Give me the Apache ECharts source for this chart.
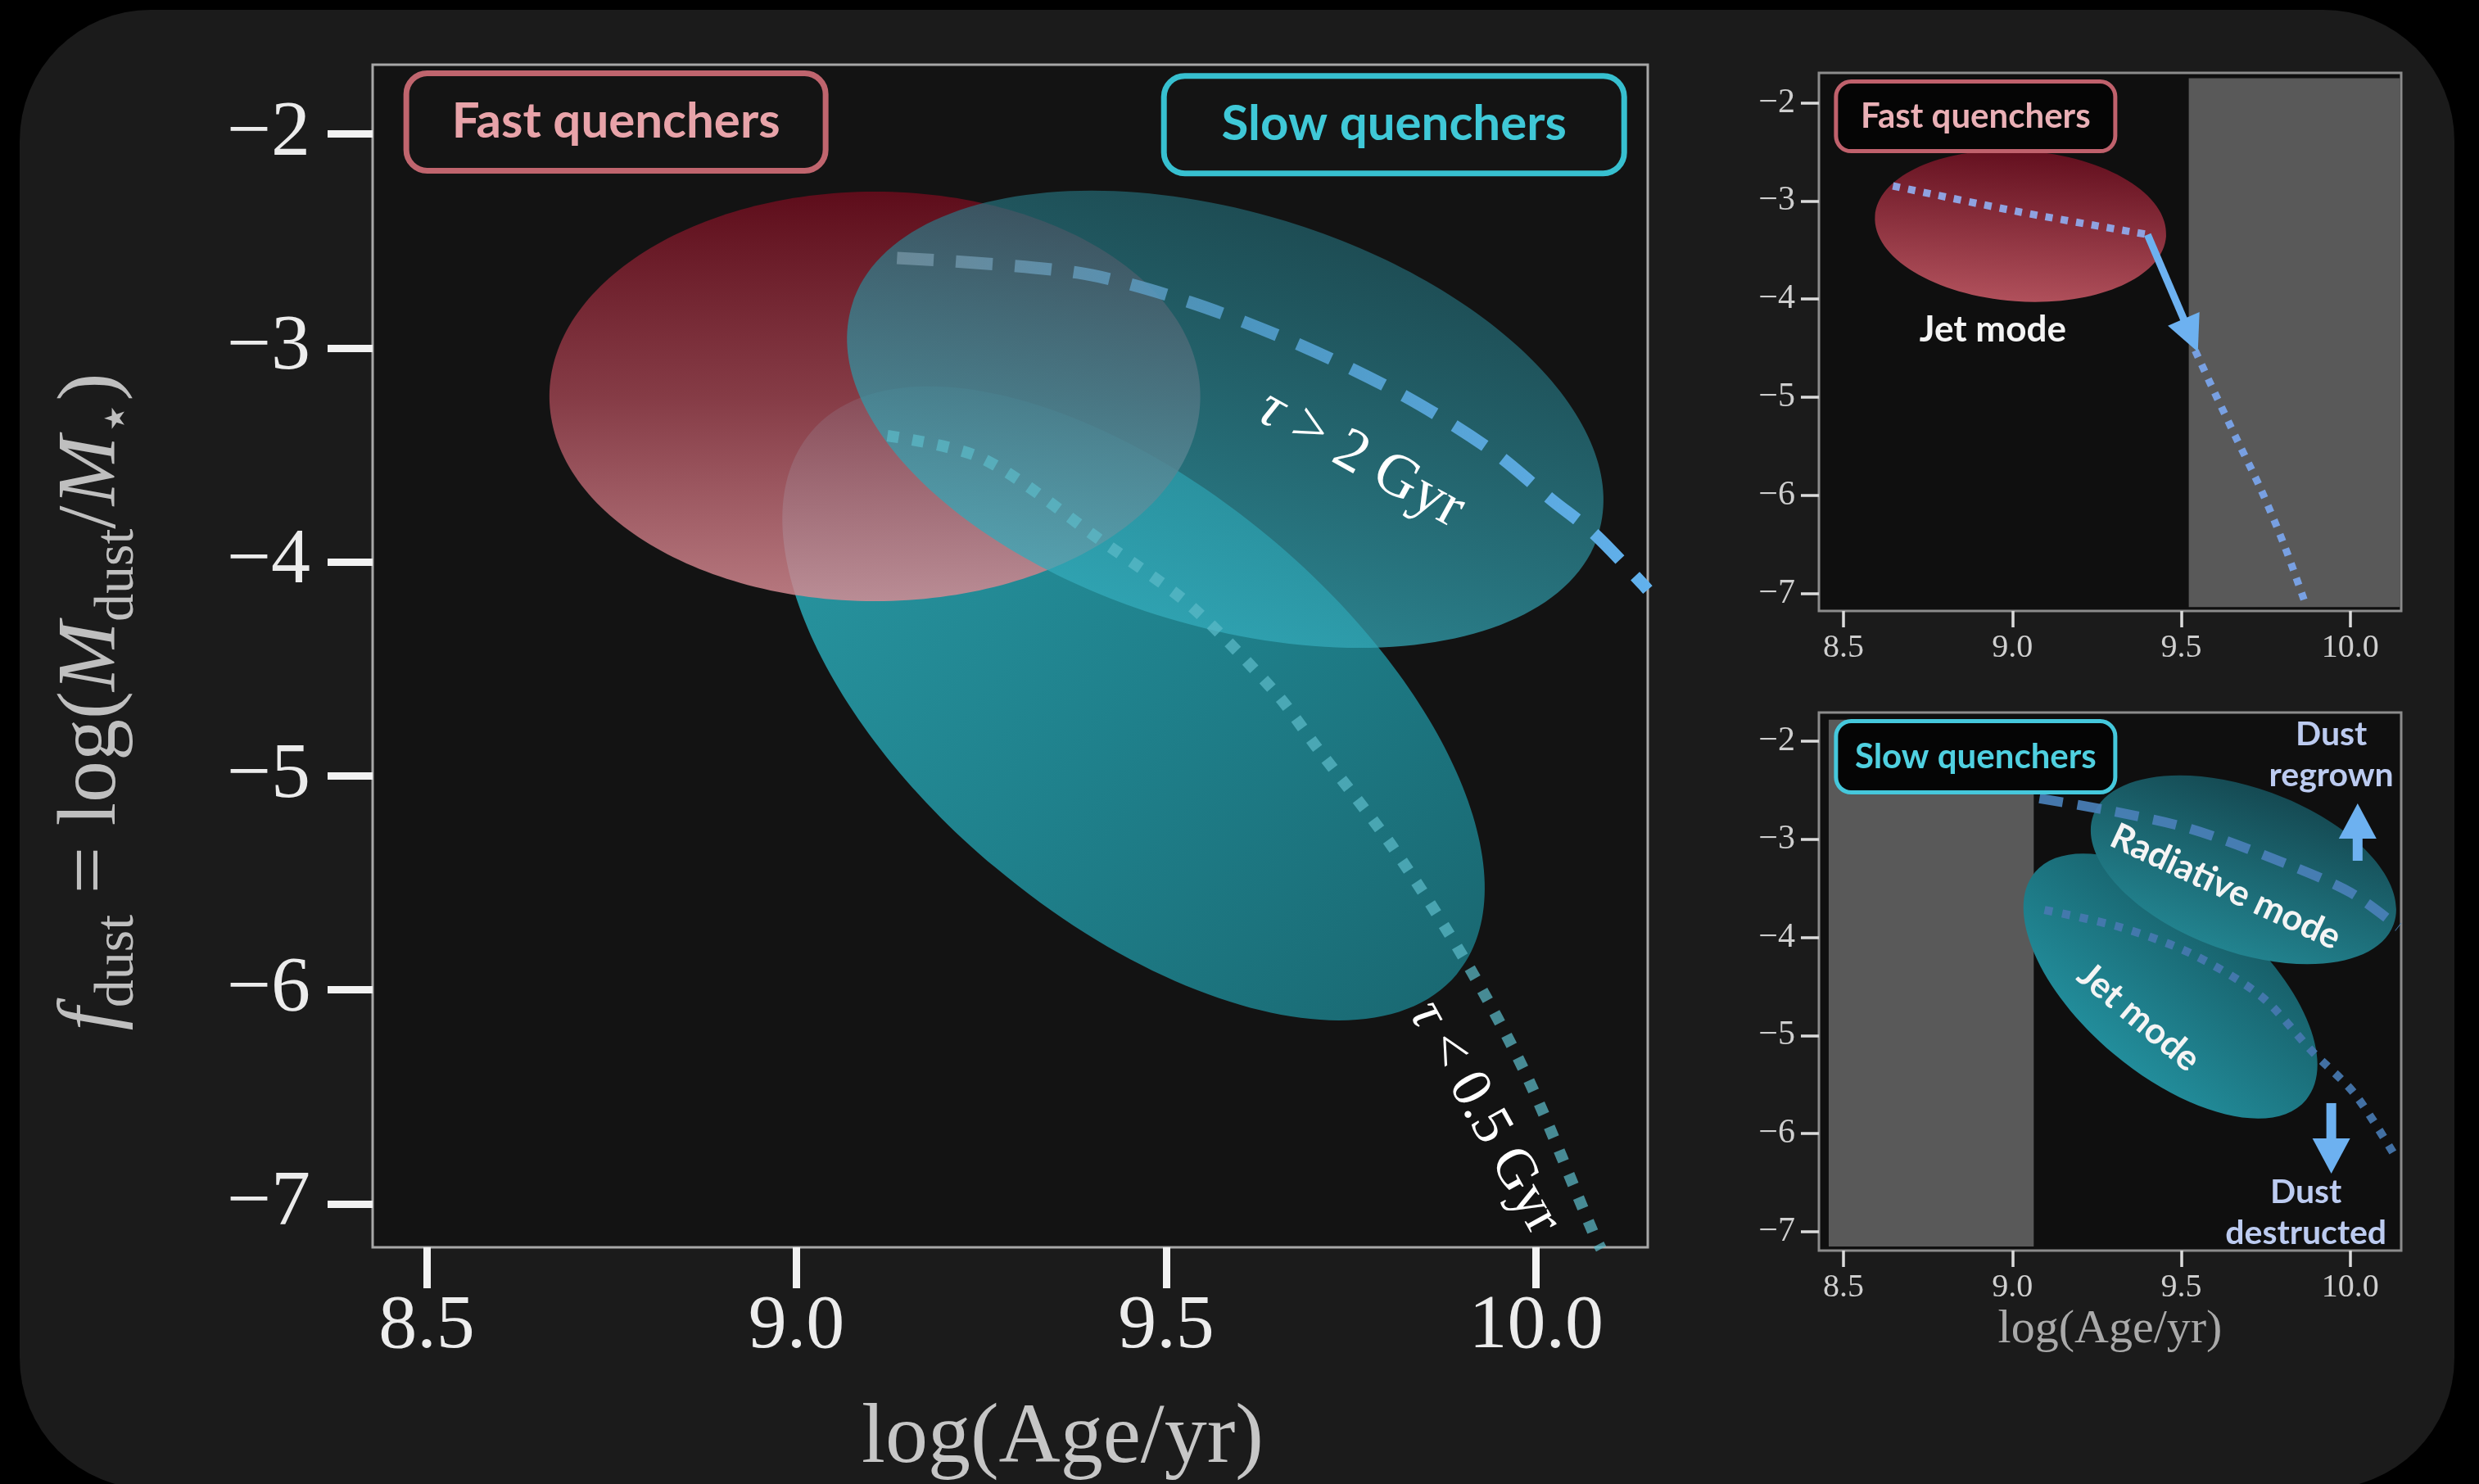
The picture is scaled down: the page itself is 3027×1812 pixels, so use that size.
<!DOCTYPE html>
<html>
<head>
<meta charset="utf-8">
<title>Dust fraction versus stellar age</title>
<script src="https://cdn.jsdelivr.net/npm/echarts@6/dist/echarts.min.js"></script>
<style>
html, body { margin: 0; padding: 0; background: #000; }
#chart { width: 3027px; height: 1812px; }
</style>
</head>
<body>
<div id="chart"></div>
<script>
// ---------- shared axes ----------
const xRange = [8.427, 10.151];
const yRangeMain = [-7.203, -1.676];
const yRangeTop = [-7.179, -1.695];
const yRangeBottom = [-7.192, -1.708];
const xTicks = [8.5, 9.0, 9.5, 10.0];
const xTickLabels = ['8.5', '9.0', '9.5', '10.0'];
const yTicks = [-2, -3, -4, -5, -6, -7];
const yTickLabels = ['\u22122', '\u22123', '\u22124', '\u22125', '\u22126', '\u22127'];

// ---------- main panel ----------
// regions: [centre log age, centre f_dust, half-width (dex in age), half-height (dex in f_dust), tilt in degrees]
const fastRegion = [9.106, -3.226, 0.440, 0.957, 0];
const slowRegionLongTau = [9.580, -3.333, 0.528, 0.968, -17];
const slowRegionShortTau = [9.456, -4.661, 0.570, 1.003, -40];
// evolutionary tracks [log age, f_dust]
const trackLongTau = [[9.136, -2.579], [9.380, -2.648], [9.532, -2.786], [9.683, -2.989], [9.823, -3.226],
  [9.940, -3.479], [10.022, -3.712], [10.079, -3.869], [10.143, -4.099], [10.151, -4.13]];
const trackShortTau = [[9.123, -3.410], [9.252, -3.517], [9.415, -3.908], [9.532, -4.202], [9.648, -4.612],
  [9.703, -4.864], [9.805, -5.327], [9.905, -5.867], [9.988, -6.407], [10.079, -7.149], [10.088, -7.21]];
const mainTrackLabels = [[9.763, -3.52, '{i|\u03c4} > 2 Gyr'], [9.930, -6.598, '{i|\u03c4} < 0.5 Gyr']];
const mainTags = [[8.756, -1.944, 'Fast quenchers'], [9.808, -1.956, 'Slow quenchers']];

// ---------- fast-quencher inset ----------
const fastJetRegion = [9.024, -3.256, 0.432, 0.768, -4];
const fastTrackEarly = [[8.646, -2.847], [9.024, -3.114], [9.396, -3.340]];
const fastTrackLate = [[9.541, -4.525], [9.597, -4.942], [9.665, -5.434], [9.735, -5.935], [9.806, -6.520], [9.869, -7.121]];
const fastJump = [[9.400, -3.344, 9.549, -4.54]];
const fastOldBand = [[9.522, 10.148, -7.14, -1.75]];
const fastNotes = [[8.942, -4.316, 'Jet mode']];
const fastTag = [[8.891, -2.138, 'Fast quenchers']];

// ---------- slow-quencher inset ----------
const slowRadiativeRegion = [9.684, -3.311, 0.473, 0.835, -20];
const slowJetRegion = [9.468, -4.496, 0.524, 0.902, -40];
const slowTrackRadiative = [[9.080, -2.584], [9.277, -2.701], [9.527, -2.893], [9.806, -3.244], [10.002, -3.544], [10.143, -3.895]];
const slowTrackJet = [[9.095, -3.720], [9.318, -3.895], [9.527, -4.162], [9.735, -4.596], [9.888, -5.164], [10.014, -5.598], [10.141, -6.274]];
const slowYoungBand = [[8.456, 9.063, -7.15, -1.78]];
const dustArrows = [[10.022, -3.219, 10.022, -2.634], [9.944, -5.689, 9.944, -6.407]];
const slowModeNotes = [[9.631, -3.486, 'Radiative mode'], [9.374, -4.813, 'Jet mode']];
const dustNotes = [[9.944, -2.142, 'Dust\nregrown'], [9.869, -6.808, 'Dust\ndestructed']];
const slowTag = [[8.891, -2.159, 'Slow quenchers']];

// ---------- helpers ----------
const SERIF = '"Liberation Serif", "DejaVu Serif", serif';
const SANS = 'Lato, "Open Sans", "Noto Sans", sans-serif';
const LG = echarts.graphic.LinearGradient;

function tickLabel(ticks, labels) {
  return function (v) {
    const i = ticks.findIndex(function (t) { return Math.abs(t - v) < 1e-6; });
    return i >= 0 ? labels[i] : '';
  };
}

function regionSeries(gi, region, fill, z) {
  return {
    type: 'custom', xAxisIndex: gi, yAxisIndex: gi, z: z, silent: true, clip: true,
    data: [region],
    renderItem: function (params, api) {
      const c = api.coord([api.value(0), api.value(1)]);
      const rx = api.size([api.value(2), 0])[0];
      const ry = api.size([0, api.value(3)])[1];
      return {
        type: 'ellipse', x: c[0], y: c[1], rotation: api.value(4) * Math.PI / 180,
        shape: { cx: 0, cy: 0, rx: rx, ry: ry },
        style: { fill: fill }
      };
    }
  };
}

function bandSeries(gi, band, color, z) {
  return {
    type: 'custom', xAxisIndex: gi, yAxisIndex: gi, z: z, silent: true, clip: true,
    data: band,
    renderItem: function (params, api) {
      const a = api.coord([api.value(0), api.value(3)]);
      const b = api.coord([api.value(1), api.value(2)]);
      return { type: 'rect', shape: { x: a[0], y: a[1], width: b[0] - a[0], height: b[1] - a[1] }, style: { fill: color } };
    }
  };
}

function trackSeries(gi, data, color, width, pattern, z, smooth) {
  return {
    type: 'line', xAxisIndex: gi, yAxisIndex: gi, z: z, silent: true,
    data: data, symbol: 'none', smooth: smooth, clip: true,
    lineStyle: { color: color, width: width, type: pattern, cap: 'butt', join: 'round' }
  };
}

function arrowSeries(gi, arrows, color, shaft, headW, headL, z) {
  return {
    type: 'custom', xAxisIndex: gi, yAxisIndex: gi, z: z, silent: true, clip: false,
    data: arrows,
    renderItem: function (params, api) {
      const a = api.coord([api.value(0), api.value(1)]);
      const b = api.coord([api.value(2), api.value(3)]);
      const dx = b[0] - a[0], dy = b[1] - a[1];
      const len = Math.sqrt(dx * dx + dy * dy);
      const ux = dx / len, uy = dy / len, px = -uy, py = ux;
      const bx = b[0] - ux * headL, by = b[1] - uy * headL;
      return {
        type: 'group', children: [
          { type: 'line', shape: { x1: a[0], y1: a[1], x2: bx + ux * 3, y2: by + uy * 3 }, style: { stroke: color, lineWidth: shaft } },
          { type: 'polygon', shape: { points: [[b[0], b[1]], [bx + px * headW / 2, by + py * headW / 2], [bx - px * headW / 2, by - py * headW / 2]] }, style: { fill: color } }
        ]
      };
    }
  };
}

function textSeries(gi, notes, z, styler) {
  return {
    type: 'custom', xAxisIndex: gi, yAxisIndex: gi, z: z, silent: true, clip: false,
    data: notes.map(function (n) { return [n[0], n[1]]; }),
    renderItem: function (params, api) {
      const n = notes[params.dataIndex];
      const p = api.coord([api.value(0), api.value(1)]);
      const s = styler(params.dataIndex);
      return {
        type: 'text', x: p[0], y: p[1], rotation: (s.rotate || 0) * Math.PI / 180,
        style: Object.assign({ text: n[2], align: 'center', verticalAlign: 'middle' }, s.style)
      };
    }
  };
}

function tagStyle(fontSize, color, border, borderWidth, radius, w, h, bg) {
  return {
    fontFamily: SANS, fontWeight: 'bold', fontSize: fontSize, fill: color,
    backgroundColor: bg, borderColor: border, borderWidth: borderWidth, borderRadius: radius,
    width: w, lineHeight: h, padding: 0
  };
}

function xAxisFor(gi, big, named) {
  return {
    type: 'value', gridIndex: gi, min: xRange[0], max: xRange[1],
    axisLine: { show: false }, splitLine: { show: false },
    axisTick: { show: true, customValues: xTicks, length: big ? 50 : 20, lineStyle: { color: big ? '#f2f2f2' : '#dcdcdc', width: big ? 9 : 3.5 } },
    axisLabel: {
      show: true, customValues: xTicks, formatter: tickLabel(xTicks, xTickLabels),
      margin: big ? 50 : 25, fontSize: big ? 94 : 40, fontFamily: SERIF, color: big ? '#ececec' : '#cfcfcf'
    },
    name: named ? 'log(Age/yr)' : '', nameLocation: 'middle', nameGap: big ? 183 : 68, nameMoveOverlap: false,
    nameTextStyle: {
      fontFamily: SERIF, fontSize: big ? 104 : 58, color: big ? '#c6c6c6' : '#a9a9a9',
      padding: big ? [0, 0, 0, 128] : [0, 0, 0, 0]
    }
  };
}

function yAxisFor(gi, range, big) {
  return {
    type: 'value', gridIndex: gi, min: range[0], max: range[1],
    axisLine: { show: false }, splitLine: { show: false },
    axisTick: { show: true, customValues: yTicks, length: big ? 55 : 22, lineStyle: { color: big ? '#f2f2f2' : '#dcdcdc', width: big ? 9 : 3.5 } },
    axisLabel: {
      show: true, customValues: yTicks, formatter: tickLabel(yTicks, yTickLabels),
      margin: big ? 76 : 29, fontSize: big ? 96 : 42, fontFamily: SERIF, color: big ? '#ececec' : '#cfcfcf'
    }
  };
}

const mainY = yAxisFor(0, yRangeMain, true);
Object.assign(mainY, {
  name: '{it|f}{sub|dust}{rm| = log(}{it|M}{sub|dust}{rm|/}{it|M}{sub|\u22c6}{rm|)}',
  nameLocation: 'middle', nameRotate: 90, nameGap: 277, nameMoveOverlap: false,
  nameTextStyle: {
    color: '#bfbfbf', fontFamily: SERIF, fontSize: 102, lineHeight: 130, padding: [0, 112, 0, 0],
    rich: {
      it: { fontFamily: SERIF, fontStyle: 'italic', fontSize: 102, lineHeight: 130, color: '#bfbfbf' },
      rm: { fontFamily: SERIF, fontSize: 102, lineHeight: 130, color: '#bfbfbf' },
      sub: { fontFamily: SERIF, fontSize: 68, lineHeight: 56, verticalAlign: 'bottom', color: '#bfbfbf' }
    }
  }
});

const option = {
  backgroundColor: '#000',
  animation: false,
  graphic: {
    elements: [{ type: 'rect', z: -10, silent: true, shape: { x: 24, y: 12, width: 2973, height: 1806, r: 160 }, style: { fill: '#1b1b1b' } }]
  },
  grid: [
    { left: 455, top: 79, width: 1557, height: 1444, show: true, backgroundColor: '#131313', borderColor: '#a8a8a8', borderWidth: 3, outerBoundsMode: 'none', containLabel: false },
    { left: 2221, top: 89, width: 711, height: 657, show: true, backgroundColor: '#0f0f0f', borderColor: '#8c8c8c', borderWidth: 3, outerBoundsMode: 'none', containLabel: false },
    { left: 2221, top: 870, width: 711, height: 657, show: true, backgroundColor: '#0f0f0f', borderColor: '#8c8c8c', borderWidth: 3, outerBoundsMode: 'none', containLabel: false }
  ],
  xAxis: [xAxisFor(0, true, true), xAxisFor(1, false, false), xAxisFor(2, false, true)],
  yAxis: [mainY, yAxisFor(1, yRangeTop, false), yAxisFor(2, yRangeBottom, false)],
  series: [
    // ----- main panel -----
    regionSeries(0, slowRegionShortTau, new LG(0, 0.5, 1, 0.5, [
      { offset: 0, color: 'rgba(42,160,172,0.93)' },
      { offset: 0.5, color: 'rgba(32,137,149,0.93)' },
      { offset: 1, color: 'rgba(26,110,120,0.95)' }
    ]), 1),
    regionSeries(0, fastRegion, new LG(0, 0, 0, 1, [
      { offset: 0, color: 'rgba(100,12,27,0.92)' },
      { offset: 0.5, color: 'rgba(152,66,78,0.86)' },
      { offset: 1, color: 'rgba(214,140,148,0.84)' }
    ]), 2),
    regionSeries(0, slowRegionLongTau, new LG(0, 0, 0, 1, [
      { offset: 0, color: 'rgba(36,112,124,0.62)' },
      { offset: 1, color: 'rgba(52,172,188,0.74)' }
    ]), 3),
    trackSeries(0, trackLongTau, new LG(0, 0, 1, 0, [
      { offset: 0, color: 'rgba(120,150,165,0.75)' },
      { offset: 0.45, color: 'rgba(80,155,200,0.9)' },
      { offset: 1, color: 'rgba(98,178,238,1)' }
    ]), 15, [45, 27], 4, 0.3),
    trackSeries(0, trackShortTau, 'rgba(92,186,200,0.72)', 14, [14, 17], 4, 0.3),
    textSeries(0, mainTrackLabels, 6, function (i) {
      return {
        rotate: i === 0 ? -29 : -61,
        style: {
          fontFamily: SERIF, fontSize: i === 0 ? 74 : 70, fill: '#ffffff',
          rich: { i: { fontFamily: SERIF, fontStyle: 'italic', fontSize: i === 0 ? 74 : 70, fill: '#ffffff' } }
        }
      };
    }),
    textSeries(0, mainTags, 7, function (i) {
      return i === 0
        ? { style: tagStyle(60, '#e8a3a9', '#c0656e', 7, 22, 505, 112, '#141414') }
        : { style: tagStyle(60, '#3fc8d7', '#37c0d0', 7, 22, 555, 112, '#141414') };
    }),

    // ----- fast-quencher inset -----
    bandSeries(1, fastOldBand, '#595959', 1),
    regionSeries(1, fastJetRegion, new LG(0, 0, 0, 1, [
      { offset: 0, color: '#630f1e' },
      { offset: 1, color: '#b0505b' }
    ]), 2),
    trackSeries(1, fastTrackEarly, '#8fa2e0', 9, [9, 10], 3, 0.3),
    trackSeries(1, fastTrackLate, '#78a0e2', 9, [9, 10], 3, 0.3),
    arrowSeries(1, fastJump, '#6db1f0', 9, 42, 44, 4),
    textSeries(1, fastNotes, 5, function () {
      return { style: { fontFamily: SANS, fontWeight: 'bold', fontSize: 44, fill: '#f4f4f4' } };
    }),
    textSeries(1, fastTag, 6, function () {
      return { style: tagStyle(42, '#eab0b6', '#c0616c', 5, 16, 336, 80, '#050505') };
    }),

    // ----- slow-quencher inset -----
    bandSeries(2, slowYoungBand, '#595959', 1),
    regionSeries(2, slowJetRegion, new LG(0, 0, 0, 1, [
      { offset: 0, color: '#175e68' },
      { offset: 1, color: '#228d9b' }
    ]), 2),
    regionSeries(2, slowRadiativeRegion, new LG(0, 0, 0, 1, [
      { offset: 0, color: '#154a53' },
      { offset: 1, color: '#22838f' }
    ]), 3),
    trackSeries(2, slowTrackRadiative, 'rgba(74,128,184,0.92)', 12, [29, 18], 4, 0.3),
    trackSeries(2, slowTrackJet, 'rgba(70,120,176,0.92)', 10, [10, 12], 4, 0.3),
    arrowSeries(2, dustArrows, '#6db1f0', 12, 46, 43, 5),
    textSeries(2, slowModeNotes, 6, function (i) {
      return { rotate: i === 0 ? -25 : -40, style: { fontFamily: SANS, fontWeight: 'bold', fontSize: 44, fill: '#f4f4f4' } };
    }),
    textSeries(2, dustNotes, 6, function () {
      return { style: { fontFamily: SANS, fontWeight: 'bold', fontSize: 41, lineHeight: 50, fill: '#bccbf0' } };
    }),
    textSeries(2, slowTag, 7, function () {
      return { style: tagStyle(42, '#4fd0e0', '#45c8dc', 5, 16, 336, 82, '#050505') };
    })
  ]
};

const chart = echarts.init(document.getElementById('chart'), null, { renderer: 'canvas', width: 3027, height: 1812 });
chart.setOption(option);
</script>
</body>
</html>
